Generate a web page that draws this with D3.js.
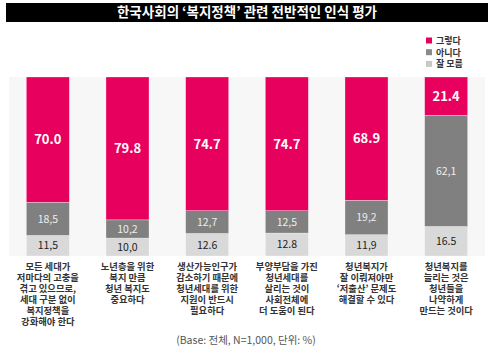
<!DOCTYPE html>
<html><head><meta charset="utf-8">
<script src="https://cdn.jsdelivr.net/npm/d3@7"></script>
<style>body{margin:0;background:#fff}svg{display:block}text{font-family:"Noto Sans CJK KR","Noto Sans",sans-serif}</style>
</head><body><svg id="c" width="494" height="355"></svg>
<script>
const title = "한국사회의 ‘복지정책’ 관련 전반적인 인식 평가";
const seriesNames = ["그렇다", "아니다", "잘 모름"];
const categories = [
  ["모든 세대가","저마다의 고충을","겪고 있으므로,","세대 구분 없이","복지정책을","강화해야 한다"],
  ["노년층을 위한","복지 만큼","청년 복지도","중요하다"],
  ["생산가능인구가","감소하기 때문에","청년세대를 위한","지원이 반드시","필요하다"],
  ["부양부담을 가진","청년세대를","살리는 것이","사회전체에","더 도움이 된다"],
  ["청년복지가","잘 이뤄져야만","‘저출산’ 문제도","해결할 수 있다"],
  ["청년복지를","늘리는 것은","청년들을","나약하게","만드는 것이다"]
];
const yesVals = [70.0, 79.8, 74.7, 74.7, 68.9, 21.4];
const noVals  = [18.5, 10.2, 12.7, 12.5, 19.2, 62.1];
const dkVals  = [11.5, 10.0, 12.6, 12.8, 11.9, 16.5];
const yesLabels = ["70.0","79.8","74.7","74.7","68.9","21.4"];
const noLabels  = ["18,5","10,2","12,7","12,5","19,2","62,1"];
const dkLabels  = ["11,5","10,0","12.6","12.8","11,9","16.5"];
const footnote = "(Base: 전체, N=1,000, 단위: %)";

const colors = ["#e8005e", "#808080", "#d9d9d9"];
const legendColors = ["#e8005e", "#8a8a8a", "#c8c8c8"];
const svg = d3.select("#c");

// title bar
svg.append("rect").attr("x",6).attr("y",3).attr("width",482).attr("height",19).attr("fill","#000");
svg.append("text").attr("x",247).attr("y",17.3).attr("text-anchor","middle")
  .attr("fill","#fff").attr("font-size",13.5).attr("font-weight","bold").text(title);

// legend
seriesNames.forEach((n,i)=>{
  const yy = 40.5 + i*11.7;
  svg.append("rect").attr("x",426).attr("y",yy-3).attr("width",6).attr("height",6).attr("fill",legendColors[i]);
  svg.append("text").attr("x",436).attr("y",yy+3.3).attr("font-size",9).attr("font-weight","bold").attr("fill","#333").text(n);
});

// plot background
const plotTop = 77, plotBottom = 256;
svg.append("rect").attr("x",9).attr("y",plotTop).attr("width",476).attr("height",plotBottom-plotTop).attr("fill","#f7f7f7");

const x = d3.scaleBand().domain(d3.range(categories.length)).range([8, 486]).paddingInner(0.46).paddingOuter(0.23);
const y = d3.scaleLinear().domain([0,100]).range([plotBottom, plotTop]);

const data = categories.map((c,i)=>({i, yes:yesVals[i], no:noVals[i], dk:dkVals[i]}));
const stack = d3.stack().keys(["dk","no","yes"])(data);
const keyColor = {dk:colors[2], no:colors[1], yes:colors[0]};
const keyLabels = {dk:dkLabels, no:noLabels, yes:yesLabels};

stack.forEach(layer=>{
  const g = svg.append("g");
  g.selectAll("rect").data(layer).join("rect")
    .attr("x", d=>x(d.data.i)).attr("width", x.bandwidth())
    .attr("y", d=>y(d[1])).attr("height", d=>y(d[0])-y(d[1]))
    .attr("fill", keyColor[layer.key]).attr("stroke","#fff").attr("stroke-opacity",0.5).attr("stroke-width",0.6);
  g.selectAll("text").data(layer).join("text")
    .attr("x", d=>x(d.data.i)+x.bandwidth()/2)
    .attr("y", d=>(y(d[0])+y(d[1]))/2)
    .attr("dy","0.36em").attr("text-anchor","middle")
    .attr("font-size", layer.key==="yes"?13:10.5)
    .attr("font-weight", layer.key==="yes"?"bold":"normal")
    .attr("fill", layer.key==="dk"?"#222":(layer.key==="no"?"#eee":"#fff"))
    .text(d=>keyLabels[layer.key][d.data.i]);
});

// category labels
categories.forEach((lines,i)=>{
  const t = svg.append("text").attr("text-anchor","middle").attr("font-size",9.3)
    .attr("font-weight","bold").attr("fill","#333");
  lines.forEach((l,j)=>{
    t.append("tspan").attr("x", x(i)+x.bandwidth()/2).attr("y", 269.5 + j*11.1).text(l);
  });
});

svg.append("text").attr("x",246).attr("y",344).attr("text-anchor","middle")
  .attr("font-size",10.5).attr("fill","#555").text(footnote);
</script></body></html>
